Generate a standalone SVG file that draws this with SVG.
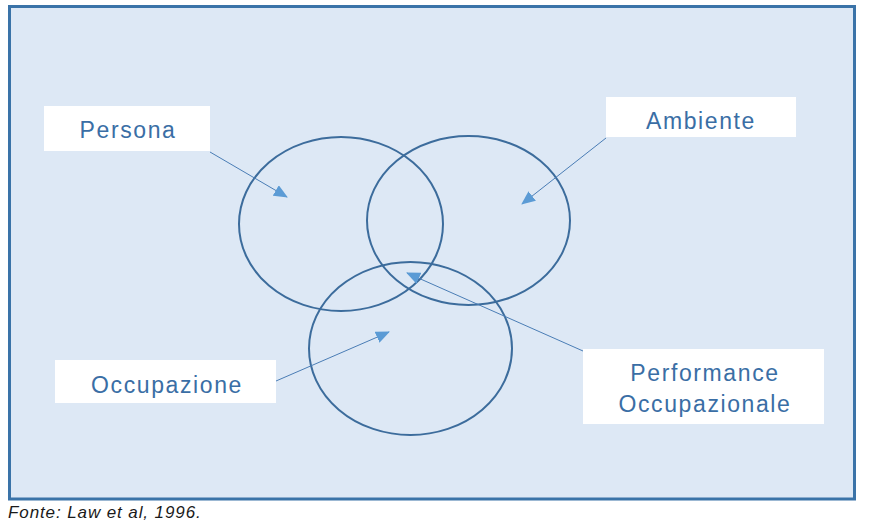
<svg xmlns="http://www.w3.org/2000/svg" width="869" height="530" viewBox="0 0 869 530">
  <defs>
    <marker id="ah" markerUnits="userSpaceOnUse" markerWidth="14" markerHeight="12" refX="13" refY="6" orient="auto">
      <path d="M0,0 L14,6 L0,12 Z" fill="#5b9bd5"/>
    </marker>
    <style>
      .lbl { fill: #ffffff; }
      .t { font-family: "Liberation Sans", Arial, sans-serif; font-size: 23px; fill: #3a6ea5; text-anchor: middle; letter-spacing: 1.6px; }
      .c { fill: none; stroke: #3c6c9c; stroke-width: 2; }
      .conn { stroke: #4a7db5; stroke-width: 1; fill: none; marker-end: url(#ah); }
    </style>
  </defs>
  <rect width="869" height="530" fill="#ffffff"/>
  <rect x="9.5" y="6.5" width="845" height="492.5" fill="#dde8f5" stroke="#3a73a8" stroke-width="3"/>

  <g id="circles">
    <ellipse class="c" cx="341" cy="224" rx="102" ry="87"/>
    <ellipse class="c" cx="468.5" cy="220.5" rx="101.5" ry="84.5"/>
    <ellipse class="c" cx="410.5" cy="348.5" rx="101.5" ry="86.5"/>
  </g>

  <g id="connectors">
    <line class="conn" x1="210" y1="152" x2="287" y2="197"/>
    <line class="conn" x1="606" y1="138" x2="522" y2="204"/>
    <line class="conn" x1="276" y1="381" x2="389" y2="332"/>
    <line class="conn" x1="583" y1="351" x2="407" y2="273"/>
  </g>

  <g id="persona">
    <rect class="lbl" x="44" y="106" width="166" height="45"/>
    <text class="t" x="128" y="138">Persona</text>
  </g>
  <g id="ambiente">
    <rect class="lbl" x="606" y="97" width="190" height="40"/>
    <text class="t" x="701" y="129">Ambiente</text>
  </g>
  <g id="occupazione">
    <rect class="lbl" x="55" y="360" width="221" height="43"/>
    <text class="t" x="167" y="393">Occupazione</text>
  </g>
  <g id="performance">
    <rect class="lbl" x="583" y="349" width="241" height="75"/>
    <text class="t" x="705" y="381">Performance</text>
    <text class="t" x="705" y="412">Occupazionale</text>
  </g>

  <text x="8" y="518" font-family="Liberation Sans, Arial, sans-serif" font-style="italic" font-size="17" letter-spacing="0.9" fill="#1a1a1a">Fonte: Law et al, 1996.</text>
</svg>
